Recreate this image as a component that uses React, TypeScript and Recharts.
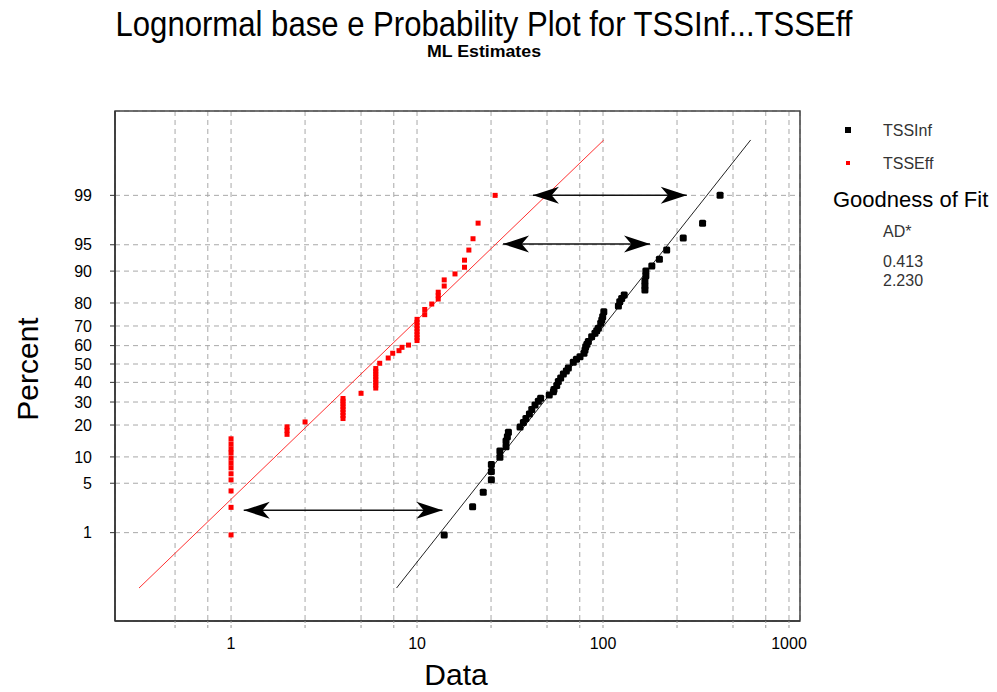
import React from 'react';
import { ComposedChart, Scatter, Line, XAxis, YAxis, CartesianGrid, ReferenceArea } from 'recharts';

// [data value, percent]
const tssInf: [number, number][] = [
  [14.0, 0.92], [19.9, 2.45], [22.7, 3.84], [25.1, 5.5], [25.1, 6.9], [25.1, 8.3], [27.9, 9.9], [27.9, 11.5],
  [30.1, 12.7], [30.1, 14.4], [30.6, 15.8], [31.0, 17.3], [35.8, 19.2], [37.3, 21.0], [38.5, 22.6], [40.2, 24.5],
  [41.4, 26.5], [43.1, 28.6], [44.9, 30.4], [46.2, 31.8], [51.4, 33.4], [54.1, 35.1], [54.5, 36.3], [56.4, 38.4],
  [57.5, 40.4], [59.2, 42.4], [61.2, 44.5], [63.5, 46.2], [65.1, 47.8], [69.2, 51.0], [72.0, 52.6], [75.2, 54.0],
  [79.0, 55.9], [80.0, 57.6], [80.7, 59.4], [82.0, 60.8], [83.4, 62.2], [86.9, 64.7], [90.5, 66.4], [92.5, 67.7],
  [94.4, 68.9], [97.2, 71.3], [98.5, 72.8], [99.6, 74.3], [101, 76.5], [121, 78.8], [123, 80.5], [126, 81.7],
  [130, 82.9], [168, 84.6], [168, 86.0], [168, 87.4], [170, 88.8], [170, 90.0], [183, 91.2], [201, 92.6],
  [220, 94.2], [270, 95.9], [343, 97.4], [426, 99.0],
];

const tssEff: [number, number][] = [
  [1, 0.92], [1, 2.4], [1, 4.0], [1, 5.5], [1, 6.5], [1, 7.6], [1, 8.6], [1, 9.7], [1, 11.0], [1, 12.1],
  [1, 13.5], [1, 15.1], [2, 16.6], [2, 18.0], [2, 19.3], [2.5, 21.2],
  [4, 22.6], [4, 23.9], [4, 25.2], [4, 26.5], [4, 27.8], [4, 29.1], [4, 30.4], [4, 31.7], [5, 34.3],
  [6, 37.0], [6, 38.5], [6, 40.0], [6, 41.5], [6, 43.0], [6, 44.5], [6, 46.0], [6, 47.5], [6.3, 50.4],
  [7, 53.3], [7.4, 55.9], [8, 57.3], [8.3, 59.1], [9, 60.3],
  [10, 62.7], [10, 64.2], [10, 65.7], [10, 67.2], [10, 68.7], [10, 70.2], [10, 71.7], [10, 73.1],
  [11, 75.2], [11, 77.4], [12, 79.6], [13, 81.5], [13, 82.7], [13, 83.9], [14, 85.9], [14, 87.7],
  [16, 89.3], [18, 90.9], [18, 92.4], [19, 94.2], [20, 95.8], [21.3, 97.4], [26.3, 99.0],
];

// fitted lines, 0.1% to 99.9%
const infFit: [number, number][] = [[7.76, 0.1], [622, 99.9]];
const effFit: [number, number][] = [[0.32, 0.1], [101, 99.9]];

// horizontal arrows: [from, to, percent]
const arrows: [number, number, number][] = [
  [42, 282, 99],
  [29, 179, 95.1],
  [1.17, 13.7, 2.18],
];

const xTicks = [0.5, 0.75, 1, 2.5, 5, 7.5, 10, 25, 50, 75, 100, 250, 500, 750, 1000];
const xLabels = [1, 10, 100, 1000];
const pctTicks = [1, 5, 10, 20, 30, 40, 50, 60, 70, 80, 90, 95, 99];
const seriesNames = ['TSSInf', 'TSSEff'];
const adValues = ['0.413', '2.230'];

const xDomain: [number, number] = [0.2377, 1146];
const zDomain: [number, number] = [-3.545, 3.49];

const FONT = '"Liberation Sans", Arial, sans-serif';

// inverse normal cdf (Acklam)
function probit(p: number): number {
  const a = [-39.69683028665376, 220.9460984245205, -275.9285104469687, 138.357751867269, -30.66479806614716, 2.506628277459239];
  const b = [-54.47609879822406, 161.5858368580409, -155.6989798598866, 66.80131188771972, -13.28068155288572];
  const c = [-0.007784894002430293, -0.3223964580411365, -2.400758277161838, -2.549732539343734, 4.374664141464968, 2.938163982698783];
  const d = [0.007784695709041462, 0.3224671290700398, 2.445134137142996, 3.754408661907416];
  const lo = 0.02425;
  if (p < lo) {
    const q = Math.sqrt(-2 * Math.log(p));
    return (((((c[0] * q + c[1]) * q + c[2]) * q + c[3]) * q + c[4]) * q + c[5]) /
      ((((d[0] * q + d[1]) * q + d[2]) * q + d[3]) * q + 1);
  }
  if (p > 1 - lo) {
    const q = Math.sqrt(-2 * Math.log(1 - p));
    return -(((((c[0] * q + c[1]) * q + c[2]) * q + c[3]) * q + c[4]) * q + c[5]) /
      ((((d[0] * q + d[1]) * q + d[2]) * q + d[3]) * q + 1);
  }
  const q = p - 0.5;
  const r = q * q;
  return (((((a[0] * r + a[1]) * r + a[2]) * r + a[3]) * r + a[4]) * r + a[5]) * q /
    (((((b[0] * r + b[1]) * r + b[2]) * r + b[3]) * r + b[4]) * r + 1);
}

const toPt = ([x, p]: [number, number]) => ({ x, z: probit(p / 100) });

const square = (size: number, fill: string) => (props: any) => (
  <rect x={props.cx - size / 2} y={props.cy - size / 2} width={size} height={size} rx={size > 6 ? 1.5 : 0} fill={fill} />
);

const head = (dir: number) => (props: any) => {
  const { cx, cy } = props;
  const L = 26 * dir;
  return (
    <path
      d={`M${cx},${cy} L${cx + L},${cy - 8.5} L${cx + L * 0.72},${cy} L${cx + L},${cy + 8.5} Z`}
      fill="#000"
    />
  );
};

const App = () => {
  const zTicks = pctTicks.map(p => probit(p / 100));
  return (
    <div style={{ position: 'absolute', left: 0, top: 0, width: 997, height: 692, background: '#fff' }}>
      <ComposedChart
        width={997}
        height={692}
        margin={{ top: 111, right: 197, bottom: 31, left: 55 }}
      >
        <CartesianGrid stroke="#a8a8a8" strokeDasharray="5 4" />
        <XAxis
          dataKey="x"
          type="number"
          scale="log"
          domain={xDomain}
          allowDataOverflow
          ticks={xTicks}
          interval={0}
          tickFormatter={(v: number) => (xLabels.includes(v) ? String(v) : '')}
          height={40}
          tickSize={7}
          tickMargin={10}
          axisLine={{ stroke: '#333', strokeWidth: 1.5 }}
          tickLine={{ stroke: '#999', strokeDasharray: '3 2' }}
          tick={{ fill: '#000', fontSize: 16, fontFamily: FONT }}
        />
        <YAxis
          dataKey="z"
          type="number"
          domain={zDomain}
          allowDataOverflow
          ticks={zTicks}
          interval={0}
          tickFormatter={(v: number) => {
            const i = zTicks.findIndex(t => Math.abs(t - v) < 1e-6);
            return i >= 0 ? String(pctTicks[i]) : '';
          }}
          width={60}
          tickSize={5}
          tickMargin={18}
          axisLine={{ stroke: '#333', strokeWidth: 1.5 }}
          tickLine={{ stroke: '#333' }}
          tick={{ fill: '#000', fontSize: 16, fontFamily: FONT }}
        />
        <ReferenceArea
          x1={xDomain[0]}
          x2={xDomain[1]}
          y1={zDomain[0]}
          y2={zDomain[1]}
          fill="none"
          fillOpacity={0}
          stroke="#444"
          strokeWidth={1.5}
        />
        <Line data={effFit.map(toPt)} dataKey="z" type="linear" stroke="#ff3030" strokeWidth={1} dot={false} isAnimationActive={false} />
        <Line data={infFit.map(toPt)} dataKey="z" type="linear" stroke="#222" strokeWidth={1} dot={false} isAnimationActive={false} />
        {arrows.map(([from, to, p], i) => (
          <Line
            key={'a' + i}
            data={[toPt([from, p]), toPt([to, p])]}
            dataKey="z"
            type="linear"
            stroke="#111"
            strokeWidth={1.5}
            dot={false}
            isAnimationActive={false}
          />
        ))}
        <Scatter data={arrows.map(([from, , p]) => toPt([from, p]))} shape={head(1)} isAnimationActive={false} />
        <Scatter data={arrows.map(([, to, p]) => toPt([to, p]))} shape={head(-1)} isAnimationActive={false} />
        <Scatter data={tssEff.map(toPt)} shape={square(5, '#ff0000')} isAnimationActive={false} />
        <Scatter data={tssInf.map(toPt)} shape={square(7, '#000')} isAnimationActive={false} />
      </ComposedChart>
      <svg
        width={997}
        height={692}
        style={{ position: 'absolute', left: 0, top: 0, pointerEvents: 'none' }}
        fontFamily={FONT}
      >
        <text x={484} y={36} textAnchor="middle" fontSize={35} textLength={737} lengthAdjust="spacingAndGlyphs">
          Lognormal base e Probability Plot for TSSInf...TSSEff
        </text>
        <text x={484} y={57} textAnchor="middle" fontSize={16} fontWeight="bold" textLength={114} lengthAdjust="spacingAndGlyphs">
          ML Estimates
        </text>
        <text transform="translate(38,369) rotate(-90)" textAnchor="middle" fontSize={30}>Percent</text>
        <text x={456} y={685} textAnchor="middle" fontSize={30}>Data</text>
        <rect x={845} y={127} width={6} height={6} fill="#000" />
        <text x={883} y={136} fontSize={16} fill="#333">{seriesNames[0]}</text>
        <rect x={846} y={161} width={4} height={4} fill="#ff0000" />
        <text x={883} y={169} fontSize={16} fill="#333">{seriesNames[1]}</text>
        <text x={833} y={207} fontSize={22} fill="#000">Goodness of Fit</text>
        <text x={883} y={237} fontSize={16} fill="#333">AD*</text>
        <text x={883} y={267} fontSize={16} fill="#333">{adValues[0]}</text>
        <text x={883} y={286} fontSize={16} fill="#333">{adValues[1]}</text>
      </svg>
    </div>
  );
};

export default App;
